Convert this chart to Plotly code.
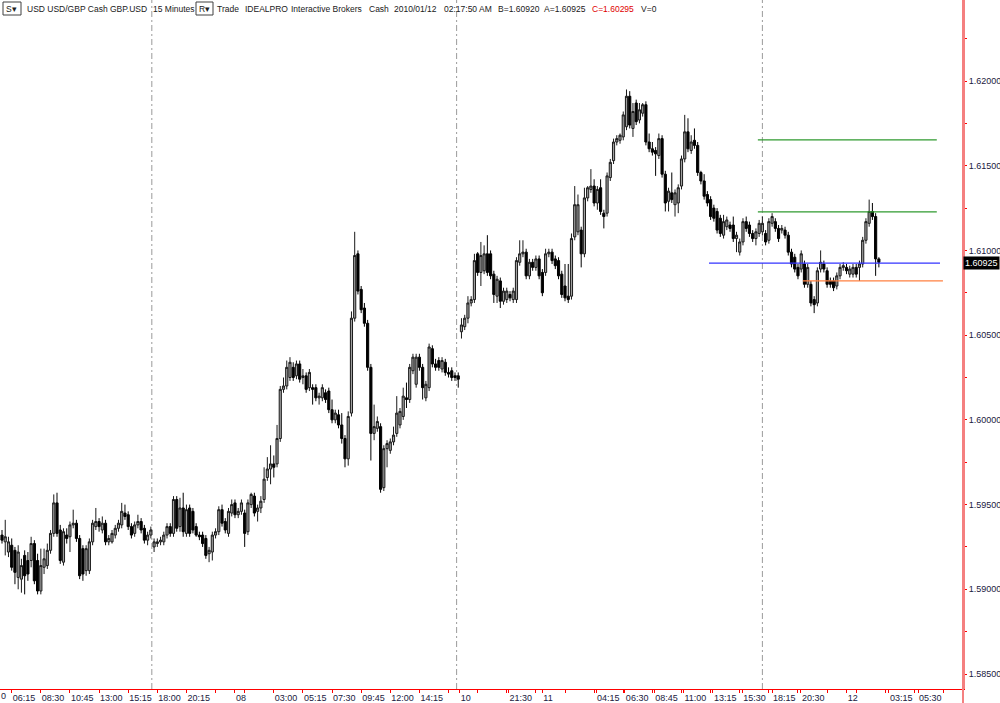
import plotly.graph_objects as go

# ---------------- data (15-minute GBP.USD bars) ----------------
opens = [
    1.5932, 1.5928, 1.5922, 1.5926, 1.5923, 1.5907, 1.5906, 1.5920, 1.5917, 1.5917,
    1.5927, 1.5917, 1.5899, 1.5913, 1.5914, 1.5923, 1.5933, 1.5951, 1.5935, 1.5916,
    1.5932, 1.5931, 1.5938, 1.5939, 1.5930, 1.5924, 1.5911, 1.5911, 1.5928, 1.5937,
    1.5940, 1.5935, 1.5939, 1.5928, 1.5928, 1.5932, 1.5936, 1.5938, 1.5945, 1.5944,
    1.5937, 1.5933, 1.5938, 1.5940, 1.5936, 1.5929, 1.5932, 1.5925, 1.5927, 1.5928,
    1.5928, 1.5932, 1.5937, 1.5933, 1.5953, 1.5937, 1.5948, 1.5933, 1.5948, 1.5946,
    1.5937, 1.5932, 1.5932, 1.5930, 1.5921, 1.5922, 1.5932, 1.5934, 1.5947, 1.5940,
    1.5933, 1.5945, 1.5951, 1.5944, 1.5946, 1.5945, 1.5934, 1.5950, 1.5955, 1.5946,
    1.5948, 1.5953, 1.5966, 1.5971, 1.5974, 1.5974, 1.5989, 1.6018, 1.6020, 1.6025,
    1.6031, 1.6026, 1.6033, 1.6025, 1.6026, 1.6019, 1.6019, 1.6019, 1.6013, 1.6013,
    1.6016, 1.6017, 1.6006, 1.6000, 1.6003, 1.5997, 1.5989, 1.5977, 1.6004, 1.6060,
    1.6098, 1.6077, 1.6066, 1.6057, 1.6031, 1.5992, 1.5995, 1.5996, 1.5960, 1.5983,
    1.5982, 1.5987, 1.5992, 1.5997, 1.6002, 1.6013, 1.6012, 1.6029, 1.6021, 1.6037,
    1.6031, 1.6013, 1.6019, 1.6042, 1.6033, 1.6035, 1.6030, 1.6034, 1.6028, 1.6029,
    1.6026, 1.6026, 1.6052, 1.6055, 1.6060, 1.6069, 1.6071, 1.6098, 1.6087, 1.6088,
    1.6098, 1.6098, 1.6086, 1.6073, 1.6082, 1.6070, 1.6071, 1.6074, 1.6071, 1.6071,
    1.6093, 1.6098, 1.6099, 1.6085, 1.6093, 1.6090, 1.6095, 1.6087, 1.6087, 1.6098,
    1.6099, 1.6095, 1.6094, 1.6086, 1.6079, 1.6073, 1.6073, 1.6108, 1.6111, 1.6112,
    1.6098, 1.6131, 1.6136, 1.6138, 1.6128, 1.6137, 1.6122, 1.6122, 1.6143, 1.6153,
    1.6164, 1.6165, 1.6167, 1.6173, 1.6191, 1.6172, 1.6187, 1.6177, 1.6181, 1.6186,
    1.6164, 1.6160, 1.6159, 1.6156, 1.6166, 1.6145, 1.6129, 1.6134, 1.6127, 1.6128,
    1.6138, 1.6154, 1.6170, 1.6159, 1.6165, 1.6162, 1.6146, 1.6141, 1.6133, 1.6130,
    1.6125, 1.6123, 1.6119, 1.6109, 1.6114, 1.6115, 1.6115, 1.6107, 1.6099, 1.6105,
    1.6117, 1.6115, 1.6110, 1.6107, 1.6110, 1.6111, 1.6110, 1.6106, 1.6116, 1.6117,
    1.6113, 1.6112, 1.6112, 1.6109, 1.6099, 1.6096, 1.6090, 1.6089, 1.6092, 1.6080,
    1.6080, 1.6071, 1.6069, 1.6089, 1.6092, 1.6088, 1.6082, 1.6082, 1.6079, 1.6085,
    1.6090, 1.6090, 1.6086, 1.6086, 1.6090, 1.6090, 1.6092, 1.6106, 1.6116, 1.6123,
    1.6120, 1.6095,
]
highs = [
    1.5935, 1.5941, 1.5931, 1.5930, 1.5925, 1.5926, 1.5918, 1.5923, 1.5922, 1.5931,
    1.5929, 1.5921, 1.5924, 1.5924, 1.5927, 1.5935, 1.5956, 1.5957, 1.5938, 1.5936,
    1.5936, 1.5940, 1.5947, 1.5941, 1.5932, 1.5926, 1.5926, 1.5930, 1.5941, 1.5948,
    1.5942, 1.5943, 1.5941, 1.5932, 1.5935, 1.5938, 1.5941, 1.5951, 1.5950, 1.5946,
    1.5939, 1.5940, 1.5944, 1.5942, 1.5938, 1.5934, 1.5937, 1.5930, 1.5930, 1.5931,
    1.5934, 1.5939, 1.5939, 1.5955, 1.5955, 1.5954, 1.5957, 1.5950, 1.5950, 1.5948,
    1.5939, 1.5934, 1.5934, 1.5932, 1.5925, 1.5934, 1.5936, 1.5949, 1.5950, 1.5942,
    1.5948, 1.5953, 1.5953, 1.5948, 1.5953, 1.5947, 1.5953, 1.5957, 1.5957, 1.5950,
    1.5955, 1.5972, 1.5978, 1.5985, 1.5979, 1.5997, 1.6020, 1.6025, 1.6035, 1.6037,
    1.6034, 1.6035, 1.6035, 1.6030, 1.6028, 1.6030, 1.6021, 1.6021, 1.6016, 1.6021,
    1.6018, 1.6019, 1.6012, 1.6006, 1.6006, 1.6004, 1.5991, 1.6005, 1.6064, 1.6111,
    1.6100, 1.6079, 1.6069, 1.6059, 1.6033, 1.6009, 1.6002, 1.5998, 1.5985, 1.5988,
    1.5989, 1.5996, 1.6014, 1.6007, 1.6019, 1.6022, 1.6033, 1.6039, 1.6039, 1.6039,
    1.6033, 1.6023, 1.6045, 1.6044, 1.6036, 1.6037, 1.6037, 1.6036, 1.6031, 1.6031,
    1.6028, 1.6028, 1.6060, 1.6062, 1.6073, 1.6073, 1.6098, 1.6099, 1.6105, 1.6103,
    1.6109, 1.6100, 1.6088, 1.6085, 1.6084, 1.6078, 1.6078, 1.6076, 1.6078, 1.6096,
    1.6106, 1.6106, 1.6101, 1.6095, 1.6095, 1.6097, 1.6097, 1.6089, 1.6101, 1.6101,
    1.6101, 1.6097, 1.6096, 1.6088, 1.6092, 1.6092, 1.6110, 1.6138, 1.6133, 1.6114,
    1.6137, 1.6138, 1.6148, 1.6142, 1.6138, 1.6142, 1.6124, 1.6146, 1.6154, 1.6166,
    1.6168, 1.6169, 1.6182, 1.6195, 1.6194, 1.6187, 1.6189, 1.6187, 1.6187, 1.6188,
    1.6169, 1.6164, 1.6161, 1.6169, 1.6168, 1.6147, 1.6137, 1.6146, 1.6136, 1.6139,
    1.6156, 1.6180, 1.6178, 1.6168, 1.6172, 1.6164, 1.6147, 1.6145, 1.6135, 1.6132,
    1.6127, 1.6125, 1.6121, 1.6121, 1.6120, 1.6117, 1.6120, 1.6111, 1.6107, 1.6119,
    1.6120, 1.6117, 1.6112, 1.6113, 1.6118, 1.6120, 1.6112, 1.6119, 1.6122, 1.6119,
    1.6115, 1.6115, 1.6114, 1.6111, 1.6101, 1.6098, 1.6092, 1.6100, 1.6094, 1.6092,
    1.6082, 1.6073, 1.6090, 1.6100, 1.6094, 1.6090, 1.6084, 1.6084, 1.6087, 1.6092,
    1.6093, 1.6092, 1.6091, 1.6092, 1.6092, 1.6094, 1.6108, 1.6119, 1.6130, 1.6128,
    1.6122, 1.6096,
]
lows = [
    1.5927, 1.5920, 1.5919, 1.5911, 1.5903, 1.5900, 1.5898, 1.5897, 1.5905, 1.5913,
    1.5903, 1.5897, 1.5897, 1.5909, 1.5912, 1.5921, 1.5931, 1.5931, 1.5915, 1.5914,
    1.5927, 1.5922, 1.5936, 1.5928, 1.5906, 1.5905, 1.5908, 1.5909, 1.5926, 1.5935,
    1.5934, 1.5933, 1.5926, 1.5926, 1.5927, 1.5930, 1.5934, 1.5936, 1.5941, 1.5935,
    1.5930, 1.5931, 1.5936, 1.5933, 1.5927, 1.5926, 1.5930, 1.5922, 1.5925, 1.5926,
    1.5926, 1.5930, 1.5931, 1.5931, 1.5934, 1.5934, 1.5931, 1.5931, 1.5931, 1.5933,
    1.5931, 1.5929, 1.5925, 1.5918, 1.5916, 1.5917, 1.5930, 1.5932, 1.5937, 1.5933,
    1.5931, 1.5943, 1.5942, 1.5942, 1.5944, 1.5925, 1.5932, 1.5948, 1.5943, 1.5940,
    1.5945, 1.5951, 1.5964, 1.5962, 1.5966, 1.5972, 1.5987, 1.6016, 1.6018, 1.6023,
    1.6023, 1.6024, 1.6022, 1.6021, 1.6016, 1.6017, 1.6009, 1.6011, 1.6009, 1.6011,
    1.6010, 1.6004, 1.5998, 1.5998, 1.5995, 1.5986, 1.5972, 1.5973, 1.6002, 1.6058,
    1.6074, 1.6063, 1.6055, 1.6029, 1.5976, 1.5988, 1.5993, 1.5957, 1.5958, 1.5972,
    1.5980, 1.5985, 1.5990, 1.5995, 1.6000, 1.6007, 1.6010, 1.6027, 1.6019, 1.6029,
    1.6012, 1.6011, 1.6017, 1.6031, 1.6029, 1.6029, 1.6028, 1.6026, 1.6025, 1.6023,
    1.6023, 1.6019, 1.6048, 1.6053, 1.6057, 1.6067, 1.6069, 1.6085, 1.6079, 1.6086,
    1.6085, 1.6083, 1.6069, 1.6069, 1.6066, 1.6068, 1.6069, 1.6070, 1.6069, 1.6069,
    1.6091, 1.6096, 1.6083, 1.6083, 1.6088, 1.6088, 1.6083, 1.6073, 1.6085, 1.6096,
    1.6092, 1.6089, 1.6083, 1.6072, 1.6070, 1.6069, 1.6071, 1.6106, 1.6109, 1.6090,
    1.6096, 1.6129, 1.6134, 1.6126, 1.6124, 1.6121, 1.6113, 1.6120, 1.6141, 1.6151,
    1.6162, 1.6163, 1.6165, 1.6171, 1.6172, 1.6167, 1.6174, 1.6175, 1.6179, 1.6162,
    1.6158, 1.6156, 1.6144, 1.6154, 1.6143, 1.6123, 1.6123, 1.6128, 1.6120, 1.6122,
    1.6136, 1.6152, 1.6158, 1.6157, 1.6160, 1.6144, 1.6139, 1.6130, 1.6126, 1.6118,
    1.6117, 1.6110, 1.6108, 1.6107, 1.6112, 1.6111, 1.6105, 1.6099, 1.6097, 1.6103,
    1.6111, 1.6108, 1.6105, 1.6103, 1.6108, 1.6109, 1.6103, 1.6104, 1.6114, 1.6111,
    1.6105, 1.6110, 1.6107, 1.6097, 1.6090, 1.6087, 1.6083, 1.6087, 1.6078, 1.6078,
    1.6067, 1.6063, 1.6067, 1.6087, 1.6087, 1.6078, 1.6078, 1.6076, 1.6077, 1.6083,
    1.6088, 1.6086, 1.6084, 1.6084, 1.6084, 1.6082, 1.6090, 1.6104, 1.6114, 1.6118,
    1.6085, 1.6090,
]
closes = [
    1.5929, 1.5931, 1.5928, 1.5913, 1.5910, 1.5922, 1.5914, 1.5908, 1.5909, 1.5927,
    1.5905, 1.5899, 1.5914, 1.5918, 1.5923, 1.5933, 1.5951, 1.5933, 1.5917, 1.5934,
    1.5930, 1.5938, 1.5939, 1.5930, 1.5908, 1.5909, 1.5924, 1.5928, 1.5939, 1.5940,
    1.5937, 1.5939, 1.5928, 1.5930, 1.5933, 1.5936, 1.5939, 1.5946, 1.5943, 1.5937,
    1.5932, 1.5938, 1.5940, 1.5935, 1.5929, 1.5932, 1.5935, 1.5928, 1.5928, 1.5929,
    1.5932, 1.5937, 1.5933, 1.5953, 1.5936, 1.5948, 1.5934, 1.5947, 1.5933, 1.5935,
    1.5932, 1.5931, 1.5927, 1.5920, 1.5923, 1.5932, 1.5934, 1.5947, 1.5939, 1.5935,
    1.5946, 1.5950, 1.5944, 1.5946, 1.5951, 1.5933, 1.5951, 1.5956, 1.5945, 1.5948,
    1.5952, 1.5965, 1.5971, 1.5974, 1.5972, 1.5989, 1.6018, 1.6020, 1.6031, 1.6034,
    1.6025, 1.6033, 1.6024, 1.6026, 1.6018, 1.6028, 1.6018, 1.6013, 1.6014, 1.6019,
    1.6012, 1.6006, 1.6000, 1.6004, 1.5997, 1.5989, 1.5977, 1.6002, 1.6060, 1.6097,
    1.6076, 1.6065, 1.6057, 1.6031, 1.5992, 1.5996, 1.5999, 1.5959, 1.5983, 1.5986,
    1.5987, 1.5991, 1.6004, 1.6005, 1.6014, 1.6012, 1.6031, 1.6037, 1.6037, 1.6031,
    1.6019, 1.6021, 1.6043, 1.6033, 1.6031, 1.6031, 1.6035, 1.6028, 1.6027, 1.6025,
    1.6025, 1.6024, 1.6056, 1.6060, 1.6069, 1.6071, 1.6094, 1.6087, 1.6097, 1.6098,
    1.6087, 1.6085, 1.6074, 1.6083, 1.6070, 1.6076, 1.6076, 1.6072, 1.6076, 1.6094,
    1.6098, 1.6099, 1.6085, 1.6093, 1.6090, 1.6095, 1.6085, 1.6075, 1.6098, 1.6099,
    1.6094, 1.6091, 1.6085, 1.6074, 1.6072, 1.6071, 1.6107, 1.6127, 1.6127, 1.6098,
    1.6131, 1.6137, 1.6138, 1.6128, 1.6136, 1.6123, 1.6120, 1.6144, 1.6152, 1.6164,
    1.6166, 1.6168, 1.6180, 1.6191, 1.6174, 1.6182, 1.6176, 1.6183, 1.6186, 1.6164,
    1.6160, 1.6158, 1.6157, 1.6166, 1.6145, 1.6128, 1.6135, 1.6130, 1.6134, 1.6137,
    1.6154, 1.6170, 1.6160, 1.6164, 1.6162, 1.6146, 1.6141, 1.6132, 1.6128, 1.6120,
    1.6119, 1.6112, 1.6110, 1.6117, 1.6118, 1.6113, 1.6107, 1.6109, 1.6105, 1.6117,
    1.6113, 1.6110, 1.6107, 1.6111, 1.6116, 1.6116, 1.6105, 1.6117, 1.6120, 1.6113,
    1.6107, 1.6113, 1.6109, 1.6099, 1.6092, 1.6089, 1.6085, 1.6098, 1.6080, 1.6090,
    1.6069, 1.6068, 1.6088, 1.6093, 1.6089, 1.6080, 1.6080, 1.6078, 1.6085, 1.6090,
    1.6091, 1.6088, 1.6089, 1.6090, 1.6086, 1.6092, 1.6106, 1.6117, 1.6123, 1.6120,
    1.6095, 1.6093,
]

# time-axis labels (bar index where each label starts)
tick_bars = [3, 12, 21, 30, 39, 48, 57, 72, 84, 93, 102, 111, 120, 129, 141.5,
             156.5, 167, 183.6, 192.5, 201.6, 210.6, 219.7, 228.8, 238, 246.9,
             261.1, 274.1, 283.1]
tick_labels = ["06:15", "08:30", "10:45", "13:00", "15:15", "18:00", "20:15", "08",
               "03:00", "05:15", "07:30", "09:45", "12:00", "14:15", "10",
               "21:30", "11", "04:15", "06:30", "08:45", "11:00", "13:15", "15:30",
               "18:15", "20:30", "12", "03:15", "05:30"]

# session separators (bar index)
session_breaks = [46.3, 140.5, 235.0]

# user-drawn horizontal levels
level_prices = [1.61652, 1.61227, 1.60925, 1.60820]
level_start = [233.6, 233.6, 218.5, 247.5]
level_end = [288.9, 288.9, 289.9, 290.8]

last_price = 1.60925
header_items = [
    ("USD USD/GBP Cash GBP.USD", 26), ("15 Minutes", 152), ("Trade", 216),
    ("IDEALPRO", 244), ("Interactive Brokers", 290), ("Cash", 368),
    ("2010/01/12", 393), ("02:17:50 AM", 443), ("B=1.60920", 497),
    ("A=1.60925", 543), ("C=1.60295", 591), ("V=0", 640),
]

# ---------------- figure ----------------
W, H = 1000, 703
ML, MR, MT, MB = 0, 37, 0, 14
PW, PH = W - ML - MR, H - MT - MB
FONT = "Liberation Sans, Arial, sans-serif"
FS = 9
HFS = 8.5
level_colors = ["#2f9a2f", "#2f9a2f", "#3333ff", "#ff8040"]

bars = list(range(len(closes)))

fig = go.Figure(go.Candlestick(
    x=bars, open=opens, high=highs, low=lows, close=closes,
    increasing=dict(line=dict(color="#1a1a1a", width=1), fillcolor="#a0a0a0"),
    decreasing=dict(line=dict(color="#000000", width=1), fillcolor="#000000"),
    whiskerwidth=0, showlegend=False, hoverinfo="skip",
))

def px(x):
    return x / PW

def py(y):
    return 1 - y / PH

shapes = []
for b in session_breaks:
    shapes.append(dict(type="line", xref="x", yref="paper", x0=b, x1=b, y0=0, y1=1,
                       line=dict(color="#9a9a9a", width=1, dash="6px,3px,2px,3px"),
                       layer="below"))
for p, s, e, c in zip(level_prices, level_start, level_end, level_colors):
    shapes.append(dict(type="line", xref="x", yref="y", x0=s, x1=e, y0=p, y1=p,
                       line=dict(color=c, width=1.3)))
# right axis line extension through bottom margin
shapes.append(dict(type="line", xref="paper", yref="paper", x0=1, x1=1,
                   y0=-MB / PH, y1=1, line=dict(color="#f48080", width=2)))
# header boxes
for x0, x1 in [(3, 21), (196, 213)]:
    shapes.append(dict(type="rect", xref="paper", yref="paper",
                       x0=px(x0), x1=px(x1), y0=py(15), y1=py(2),
                       line=dict(color="#404040", width=1), fillcolor="white"))

annotations = []
for txt, x in header_items:
    col = "#e00000" if txt.startswith("C=") else "#202020"
    annotations.append(dict(text=txt, xref="paper", yref="paper", x=px(x), y=py(8.5),
                            xanchor="left", yanchor="middle", showarrow=False,
                            borderpad=0,
                            font=dict(family=FONT, size=HFS, color=col)))
for txt, x in [("S\u25be", 4.5), ("R\u25be", 197.5)]:
    annotations.append(dict(text=txt, xref="paper", yref="paper", x=px(x), y=py(8.5),
                            xanchor="left", yanchor="middle", showarrow=False,
                            borderpad=0,
                            font=dict(family=FONT, size=HFS, color="#202020")))
annotations.append(dict(text=f"{last_price:.5f}", xref="paper", yref="y", x=1, y=last_price,
                        xanchor="left", yanchor="middle", xshift=0, showarrow=False,
                        bgcolor="#000000", borderpad=1,
                        font=dict(family=FONT, size=FS, color="#ffffff")))
annotations.append(dict(text="0", xref="paper", yref="paper", x=0, y=py(696),
                        xanchor="left", yanchor="middle", showarrow=False, borderpad=0,
                        font=dict(family=FONT, size=FS, color="#202040")))

fig.update_layout(
    width=W, height=H, margin=dict(l=ML, r=MR, t=MT, b=MB, autoexpand=False),
    paper_bgcolor="white", plot_bgcolor="white",
    font=dict(family=FONT, size=FS, color="#202040"),
    boxgap=0.05, showlegend=False, hovermode=False,
    shapes=shapes, annotations=annotations,
    xaxis=dict(
        range=[-0.62, 297.0], rangeslider=dict(visible=False), automargin=False,
        showgrid=False, zeroline=False, showline=True, linecolor="#ff0000", linewidth=1,
        ticks="outside", ticklen=3, tickcolor="#ff0000", tickwidth=1,
        tickmode="array", tickvals=tick_bars, ticktext=tick_labels,
        ticklabelposition="outside right", tickangle=0,
        tickfont=dict(family=FONT, size=FS, color="#202040"),
        minor=dict(tickmode="linear", tick0=3, dtick=9, ticks="outside", ticklen=3,
                   tickcolor="#ff0000", showgrid=False),
        fixedrange=True,
    ),
    yaxis=dict(
        range=[1.584115, 1.624781], side="right", automargin=False,
        showgrid=False, zeroline=False, showline=True, linecolor="#f48080", linewidth=2,
        ticks="outside", ticklen=2, tickcolor="#ff0000", tickwidth=1,
        tickmode="linear", tick0=1.585, dtick=0.005, tickformat=".5f",
        tickfont=dict(family=FONT, size=FS, color="#202040"),
        minor=dict(tickmode="linear", tick0=1.5875, dtick=0.005, ticks="outside",
                   ticklen=2, tickcolor="#ff0000", showgrid=False),
        fixedrange=True,
    ),
)

fig.write_html("out.html", config={"staticPlot": True},
               post_script="document.body.style.margin='0';document.body.style.overflow='hidden';")
